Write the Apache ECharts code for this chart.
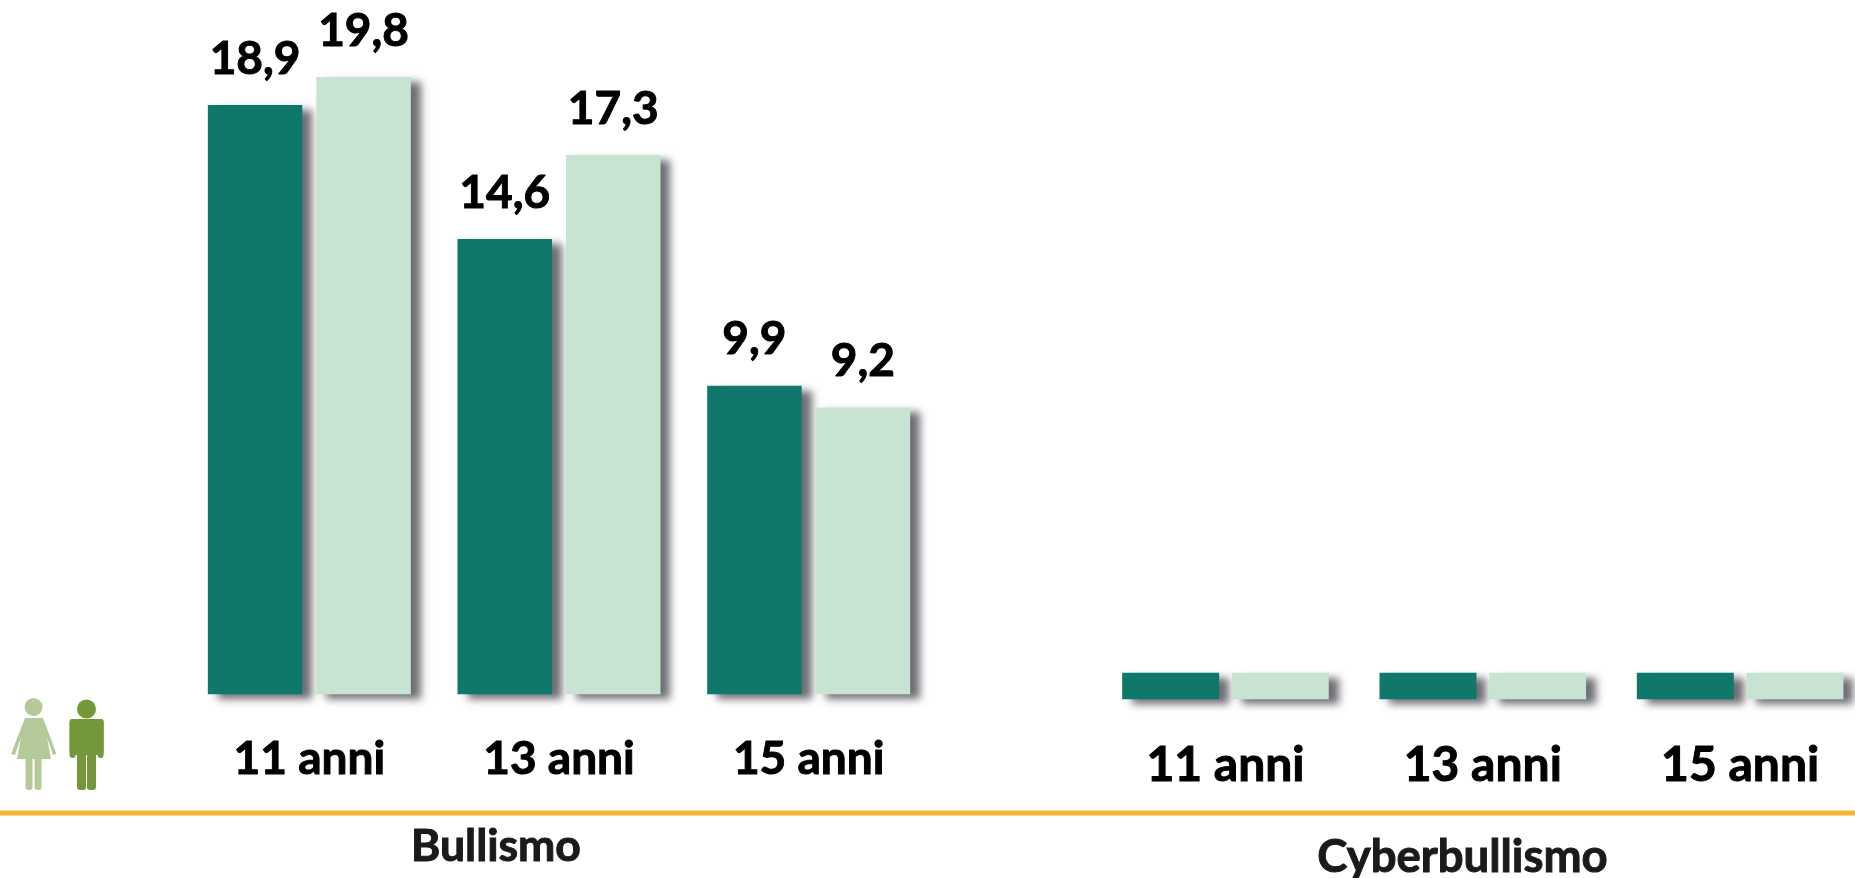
<!DOCTYPE html>
<html><head><meta charset="utf-8">
<style>html,body{margin:0;padding:0;background:#fff;overflow:hidden;width:1855px;height:878px}#c{width:1900px;height:878px}</style>
<script src="https://cdn.jsdelivr.net/npm/echarts@6/dist/echarts.min.js"></script>
</head><body><div id="c"></div>
<script>
const ageLabels = ['11 anni', '13 anni', '15 anni'];
const sectionNames = ['Bullismo', 'Cyberbullismo'];
const bullismoFemmine = [18.9, 14.6, 9.9];
const bullismoMaschi = [19.8, 17.3, 9.2];
const cyberFemmine = [0.85, 0.85, 0.85];
const cyberMaschi = [0.85, 0.85, 0.85];

const DARK = '#0F786B', LIGHT = '#C8E3D2', FONT = 'Lato';
const chart = echarts.init(document.getElementById('c'), null, {renderer: 'canvas'});
const shadow = {shadowBlur: 8, shadowColor: 'rgba(60,60,70,0.75)', shadowOffsetX: 10, shadowOffsetY: 5};
const fmt = p => String(p.value).replace('.', ',');

function bar(name, data, color, idx, width, gap, showLabel) {
  return {
    name, type: 'bar', data, xAxisIndex: idx, yAxisIndex: idx,
    barWidth: width, barGap: gap,
    itemStyle: Object.assign({color}, shadow),
    label: {show: showLabel, position: 'top', distance: 23, formatter: fmt,
      fontFamily: FONT, fontWeight: 'bold', fontSize: 46, color: '#000',
      textBorderColor: '#000', textBorderWidth: 1}
  };
}
function xAxis(idx, size, margin) {
  return {type: 'category', gridIndex: idx, data: ageLabels,
    axisLine: {show: false}, axisTick: {show: false},
    axisLabel: {margin, fontFamily: FONT, fontWeight: 'bold', fontSize: size, color: '#000',
      textBorderColor: '#000', textBorderWidth: 1}};
}
const yAxis = (idx, max) => ({type: 'value', gridIndex: idx, min: 0, max, show: false});

const gW = '#B5C99A', gM = '#74973A';
const graphic = [
  {type: 'rect', shape: {x: 0, y: 810.5, width: 1900, height: 5}, style: {fill: '#F9B233'}, z: 5},
  {type: 'text', x: 496, y: 824, z: 10, style: {text: sectionNames[0], fontFamily: FONT, fontWeight: 'bold', fontSize: 44.5, fill: '#1a1a1a', textAlign: 'center', stroke: '#1a1a1a', lineWidth: 1}},
  {type: 'text', x: 1462.5, y: 834, z: 10, style: {text: sectionNames[1], fontFamily: FONT, fontWeight: 'bold', fontSize: 45.5, fill: '#1a1a1a', textAlign: 'center', stroke: '#1a1a1a', lineWidth: 1}},
  // woman pictogram
  {type: 'circle', shape: {cx: 33.6, cy: 707, r: 9}, style: {fill: gW}},
  {type: 'polygon', shape: {points: [[25,718],[43,718],[56.5,754],[53,755],[47,737],[51,759],[17,759],[21,737],[15,755],[11,754]]}, style: {fill: gW}},
  {type: 'rect', shape: {x: 25.5, y: 757, width: 7, height: 33, r: 3}, style: {fill: gW}},
  {type: 'rect', shape: {x: 34.5, y: 757, width: 7, height: 33, r: 3}, style: {fill: gW}},
  // man pictogram
  {type: 'circle', shape: {cx: 86.5, cy: 709, r: 9.5}, style: {fill: gM}},
  {type: 'rect', shape: {x: 69.6, y: 719, width: 34, height: 36, r: 3}, style: {fill: gM}},
  {type: 'rect', shape: {x: 69.6, y: 719, width: 6, height: 39, r: 3}, style: {fill: gM}},
  {type: 'rect', shape: {x: 97.6, y: 719, width: 6, height: 39, r: 3}, style: {fill: gM}},
  {type: 'rect', shape: {x: 77, y: 745, width: 9, height: 45, r: 3}, style: {fill: gM}},
  {type: 'rect', shape: {x: 87, y: 745, width: 9, height: 45, r: 3}, style: {fill: gM}}
];

chart.setOption({
  animation: false,
  backgroundColor: '#fff',
  grid: [
    {left: 184.5, top: 0, width: 749, height: 694.3},
    {left: 1096.8, top: 0, width: 772, height: 699.3}
  ],
  xAxis: [xAxis(0, 46, 42), xAxis(1, 48, 42)],
  yAxis: [yAxis(0, 22.27), yAxis(1, 22.43)],
  series: [
    bar('Femmine', bullismoFemmine, DARK, 0, 94.5, '14.8%', true),
    bar('Maschi', bullismoMaschi, LIGHT, 0, 94.5, '14.8%', true),
    bar('Femmine', cyberFemmine, DARK, 1, 97, '13%', false),
    bar('Maschi', cyberMaschi, LIGHT, 1, 97, '13%', false)
  ],
  graphic
});
</script></body></html>
